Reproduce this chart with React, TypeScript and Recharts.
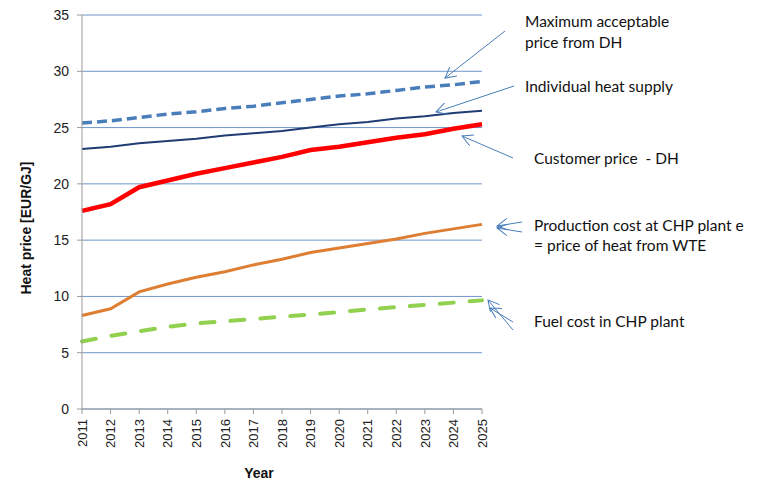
import { LineChart, Line, XAxis, YAxis, CartesianGrid } from "recharts";

const years = [2011, 2012, 2013, 2014, 2015, 2016, 2017, 2018, 2019, 2020, 2021, 2022, 2023, 2024, 2025];
const maxAcceptable = [25.4, 25.6, 25.9, 26.2, 26.4, 26.7, 26.9, 27.2, 27.5, 27.8, 28.0, 28.3, 28.6, 28.8, 29.1];
const individualSupply = [23.1, 23.3, 23.6, 23.8, 24.0, 24.3, 24.5, 24.7, 25.0, 25.3, 25.5, 25.8, 26.0, 26.3, 26.5];
const customerPrice = [17.6, 18.2, 19.7, 20.3, 20.9, 21.4, 21.9, 22.4, 23.0, 23.3, 23.7, 24.1, 24.4, 24.9, 25.3];
const productionCost = [8.3, 8.9, 10.4, 11.1, 11.7, 12.2, 12.8, 13.3, 13.9, 14.3, 14.7, 15.1, 15.6, 16.0, 16.4];
const fuelCost = [6.0, 6.5, 6.9, 7.3, 7.6, 7.8, 8.0, 8.2, 8.4, 8.6, 8.85, 9.05, 9.25, 9.45, 9.65];
const yTicks = [0, 5, 10, 15, 20, 25, 30, 35];

const data = years.map((year, i) => ({
  year,
  maxAcceptable: maxAcceptable[i],
  individualSupply: individualSupply[i],
  customerPrice: customerPrice[i],
  productionCost: productionCost[i],
  fuelCost: fuelCost[i],
}));

const axisFont = "'Liberation Sans', Arial, sans-serif";
const noteFont = "Lato, 'Noto Sans', sans-serif";
const arrowColor = "#4A7EBB";

const YearTick = (props: any) => {
  const { x, y, payload } = props;
  return (
    <text
      x={x}
      y={y}
      dy="0.36em"
      transform={`rotate(-90, ${x}, ${y})`}
      textAnchor="end"
      fontSize={13}
      fontFamily={axisFont}
      fill="#222"
    >
      {payload.value}
    </text>
  );
};

export default function App() {
  return (
    <div style={{ position: "absolute", left: 0, top: 0, width: 764, height: 482, background: "#fff" }}>
      <LineChart width={764} height={482} data={data} margin={{ top: 15, right: 282, left: 40, bottom: 23 }}>
        <CartesianGrid horizontal vertical={false} stroke="#6F96C8" strokeWidth={1} />
        <XAxis
          dataKey="year"
          type="number"
          domain={[2011, 2025]}
          ticks={years}
          interval={0}
          height={50}
          tickSize={5}
          tickMargin={5}
          stroke="#9a9a9a"
          tickLine={{ stroke: "#9a9a9a" }}
          tick={<YearTick />}
        />
        <YAxis
          domain={[0, 35]}
          ticks={yTicks}
          interval={0}
          width={42}
          tickSize={5}
          tickMargin={8}
          stroke="#9a9a9a"
          tick={{ fontSize: 14, fontFamily: axisFont, fill: "#222" }}
        />
        <Line
          dataKey="maxAcceptable"
          stroke="#4A7EBB"
          strokeWidth={3.5}
          strokeDasharray="10 5"
          dot={false}
          type="linear"
          isAnimationActive={false}
        />
        <Line
          dataKey="individualSupply"
          stroke="#1F3C73"
          strokeWidth={2}
          dot={false}
          type="linear"
          isAnimationActive={false}
        />
        <Line
          dataKey="customerPrice"
          stroke="#FF0000"
          strokeWidth={4.5}
          dot={false}
          type="linear"
          isAnimationActive={false}
        />
        <Line
          dataKey="productionCost"
          stroke="#DD7E33"
          strokeWidth={3}
          dot={false}
          type="linear"
          isAnimationActive={false}
        />
        <Line
          dataKey="fuelCost"
          stroke="#92D050"
          strokeWidth={4}
          strokeDasharray="14 16"
          strokeLinecap="round"
          dot={false}
          type="linear"
          isAnimationActive={false}
        />
      </LineChart>
      <svg width={764} height={482} style={{ position: "absolute", left: 0, top: 0, pointerEvents: "none" }}>
        <defs>
          <marker id="open" viewBox="0 0 12 12" refX="11" refY="6" markerWidth="12" markerHeight="12" orient="auto" markerUnits="userSpaceOnUse">
            <path d="M0,0 L11,6 L0,12" fill="none" stroke={arrowColor} strokeWidth={1} />
          </marker>
        </defs>
        <text
          transform="translate(31, 228) rotate(-90)"
          textAnchor="middle"
          fontSize={14}
          fontWeight="bold"
          fontFamily={axisFont}
          fill="#111"
        >
          Heat price [EUR/GJ]
        </text>
        <text x={259} y={478} textAnchor="middle" fontSize={14} fontWeight="bold" fontFamily={axisFont} fill="#111">
          Year
        </text>

        <g stroke={arrowColor} strokeWidth={1} fill="none">
          <line x1={505} y1={31} x2={445} y2={78} markerEnd="url(#open)" />
          <line x1={514} y1={86} x2={436} y2={112} markerEnd="url(#open)" />
          <line x1={513} y1={158} x2={462} y2={136} markerEnd="url(#open)" />
          <line x1={522} y1={222} x2={497} y2={226} markerEnd="url(#open)" />
          <line x1={522} y1={232} x2={497} y2={228} markerEnd="url(#open)" />
          <line x1={513} y1={330} x2={488} y2={300} markerEnd="url(#open)" />
          <line x1={513} y1={322} x2={490} y2={308} markerEnd="url(#open)" />
        </g>

        <g fontFamily={noteFont} fontSize={15.5} fill="#111" style={{ whiteSpace: "pre" }}>
          <text x={525} y={27}>Maximum acceptable</text>
          <text x={525} y={48}>price from DH</text>
          <text x={525} y={92}>Individual heat supply</text>
          <text x={534} y={164} xmlSpace="preserve">Customer price  - DH</text>
          <text x={534} y={231}>Production cost at CHP plant e</text>
          <text x={534} y={251}>= price of heat from WTE</text>
          <text x={534} y={327}>Fuel cost in CHP plant</text>
        </g>
      </svg>
    </div>
  );
}
